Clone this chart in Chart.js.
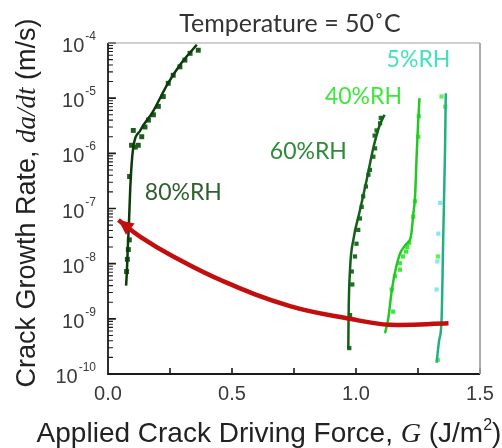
<!DOCTYPE html>
<html>
<head>
<meta charset="utf-8">
<script src="https://cdn.jsdelivr.net/npm/chart.js@4.4.1/dist/chart.umd.min.js"></script>
<style>
  html, body { margin: 0; padding: 0; background: #fff; }
</style>
</head>
<body>
<canvas id="chart" width="502" height="448"></canvas>
<script>
// data: G in J/m^2, da/dt in m/s
const g80Fit = [0.073, 0.076, 0.080, 0.085, 0.090, 0.100, 0.130, 0.180, 0.240, 0.290, 0.358];
const rate80Fit = [4e-9, 7e-9, 2e-8, 6.3e-8, 2.5e-7, 1.1e-6, 2.6e-6, 5.6e-6, 1.8e-5, 4e-5, 9.3e-5];
const g80Pts = [0.075, 0.078, 0.082, 0.086, 0.087, 0.095, 0.102, 0.110, 0.122, 0.136, 0.149, 0.163, 0.183, 0.203, 0.223, 0.243, 0.263, 0.290, 0.310, 0.331, 0.364];
const rate80Pts = [7.2e-9, 1.2e-8, 1.8e-8, 2.7e-8, 3.8e-7, 1.4e-6, 2.6e-6, 1.3e-6, 1.4e-6, 2.0e-6, 3.0e-6, 4.0e-6, 5.0e-6, 7.1e-6, 1.07e-5, 1.86e-5, 2.6e-5, 3.7e-5, 4.9e-5, 6.5e-5, 7.4e-5];

const g60Fit = [0.969, 0.970, 0.976, 0.990, 1.015, 1.043, 1.070, 1.095, 1.115];
const rate60Fit = [2.8e-10, 1e-9, 7.9e-9, 2.8e-8, 8.9e-8, 3.3e-7, 1.26e-6, 3.2e-6, 5e-6];
const g60Pts = [0.973, 0.976, 0.985, 0.983, 0.996, 1.002, 1.009, 1.016, 1.023, 1.029, 1.040, 1.050, 1.056, 1.070, 1.077, 1.075, 1.083, 1.097, 1.100];
const rate60Pts = [2.95e-10, 1.17e-9, 4.2e-9, 7.2e-9, 1.35e-8, 2.3e-8, 4.1e-8, 6.6e-8, 1.07e-7, 1.66e-7, 2.5e-7, 4.1e-7, 5e-7, 8.7e-7, 1.23e-6, 2.1e-6, 2.6e-6, 3.5e-6, 4.4e-6];

const g40Fit = [1.117, 1.130, 1.144, 1.160, 1.177, 1.200, 1.222, 1.231, 1.238, 1.245, 1.250, 1.256];
const rate40Fit = [5.5e-10, 1e-9, 3.2e-9, 7.9e-9, 1.5e-8, 2.2e-8, 3.2e-8, 7.9e-8, 1.6e-7, 1e-6, 3.2e-6, 1e-5];
const g40Pts = [1.150, 1.144, 1.157, 1.177, 1.177, 1.190, 1.202, 1.207, 1.215, 1.231, 1.238, 1.251, 1.253];
const rate40Pts = [1.35e-9, 3.4e-9, 5.9e-9, 7.8e-9, 1.02e-8, 1.35e-8, 1.66e-8, 2.0e-8, 2.4e-8, 7.1e-8, 1.35e-7, 2.0e-6, 4.7e-6];

const g5Fit = [1.325, 1.335, 1.345, 1.352, 1.359, 1.362];
const rate5Fit = [1.6e-10, 4e-10, 9.5e-10, 3.5e-8, 1.15e-6, 1.23e-5];
const g5Green = [1.330, 1.330, 1.345, 1.360];
const rate5Green = [1.8e-10, 1.35e-8, 1.07e-5, 7e-6];
const g5Cyan = [1.325, 1.328, 1.332, 1.339];
const rate5Cyan = [3.4e-9, 1.1e-8, 3.5e-8, 1.26e-7];

// red trend arrow, tail to tip
const gArrow = [1.373, 1.137, 0.976, 0.734, 0.465, 0.263, 0.129, 0.042];
const rateArrow = [8.3e-10, 7.8e-10, 1.0e-9, 1.7e-9, 4.8e-9, 1.35e-8, 3.1e-8, 6.2e-8];

const xTicks = [0, 0.5, 1.0, 1.5];
const xTickLabels = ['0.0', '0.5', '1.0', '1.5'];
const xTickMarks = [0.25, 0.5, 0.75, 1.0, 1.25, 1.5];
const yTickExp = [-4, -5, -6, -7, -8, -9, -10];
const seriesNames = ['80%RH', '60%RH', '40%RH', '5%RH'];

const SANS = '"Liberation Sans", Arial, sans-serif';
const SERIF = '"Liberation Serif", "Times New Roman", serif';
const LABEL_FONT = 'Lato, "Open Sans", sans-serif';

const X_MIN = 0, X_MAX = 1.5, Y_MIN = 1e-10, Y_MAX = 1e-4;

function pts(xs, ys) {
    return xs.map((x, i) => ({ x: x, y: ys[i] }));
}

function fitLine(xs, ys, color) {
    return {
        type: 'line', data: pts(xs, ys), borderColor: color, borderWidth: 2.5,
        pointRadius: 0, fill: false, cubicInterpolationMode: 'monotone'
    };
}

function markers(xs, ys, color, r) {
    return {
        type: 'scatter', data: pts(xs, ys), backgroundColor: color, borderColor: color,
        borderWidth: 0, pointStyle: 'rect', pointRadius: r
    };
}

// straight, unclipped line used for the axis frame and ticks
function frameLine(data, color, width) {
    return {
        type: 'line', data: data, borderColor: color, borderWidth: width,
        pointRadius: 0, fill: false, tension: 0, clip: false, spanGaps: false, order: -1
    };
}

// tick segments, split by gaps; lengths given in axis units (about 8, 5 and 6 px)
const majorY = yTickExp.map(e => Math.pow(10, e));
const minorY = [];
yTickExp.forEach(e => {
    for (let k = 2; k <= 9; k++) {
        if (e < -4) minorY.push(k * Math.pow(10, e));
    }
});
const yMajorTickData = [];
majorY.forEach(v => { yMajorTickData.push({ x: 0, y: v }, { x: 0.032, y: v }, { x: 0, y: null }); });
const yMinorTickData = [];
minorY.forEach(v => { yMinorTickData.push({ x: 0, y: v }, { x: 0.02, y: v }, { x: 0, y: null }); });
const xTickData = [];
xTickMarks.forEach(g => { xTickData.push({ x: g, y: Y_MIN }, { x: g, y: Y_MIN * 1.28 }, { x: g, y: null }); });

function drawRuns(ctx, runs, x, y) {
    let total = 0;
    runs.forEach(r => { ctx.font = r.font; total += ctx.measureText(r.text).width; });
    let cx = x - total / 2;
    runs.forEach(r => {
        ctx.font = r.font;
        ctx.fillText(r.text, cx, y + (r.dy || 0));
        cx += ctx.measureText(r.text).width;
    });
}

const decor = {
    id: 'decor',
    afterDatasetsDraw(chart) {
        const ctx = chart.ctx;
        const a = chart.chartArea;
        const xs = chart.scales.x, ys = chart.scales.y;
        ctx.save();
        // arrowhead on the red trend line
        const n = gArrow.length;
        const tx = xs.getPixelForValue(gArrow[n - 1]), ty = ys.getPixelForValue(rateArrow[n - 1]);
        const bx = xs.getPixelForValue(gArrow[n - 2]), by = ys.getPixelForValue(rateArrow[n - 2]);
        const ang = Math.atan2(ty - by, tx - bx);
        ctx.fillStyle = '#c40d0d';
        ctx.beginPath();
        ctx.moveTo(tx, ty);
        ctx.lineTo(tx - 15 * Math.cos(ang) + 7 * Math.sin(ang), ty - 15 * Math.sin(ang) - 7 * Math.cos(ang));
        ctx.lineTo(tx - 15 * Math.cos(ang) - 7 * Math.sin(ang), ty - 15 * Math.sin(ang) + 7 * Math.cos(ang));
        ctx.closePath();
        ctx.fill();

        // series labels (centre x, baseline y in data units)
        ctx.textAlign = 'center';
        ctx.textBaseline = 'alphabetic';
        ctx.font = '23px ' + LABEL_FONT;
        const labelSpots = [[0.304, 1.43e-7, '#2f5f2f'], [0.808, 7.9e-7, '#2e8a3a'], [1.030, 7.85e-6, '#3ee63e'], [1.252, 3.67e-5, '#44e2bb']];
        seriesNames.forEach((name, i) => {
            const s = labelSpots[i];
            ctx.fillStyle = s[2];
            ctx.fillText(name, xs.getPixelForValue(s[0]), ys.getPixelForValue(s[1]));
        });

        // heading
        ctx.fillStyle = '#333';
        ctx.font = '25px ' + LABEL_FONT;
        ctx.fillText('Temperature = 50˚C', 290, 32);

        // tick labels
        ctx.fillStyle = '#3a3a3a';
        ctx.font = '20px ' + SANS;
        xTicks.forEach((t, i) => {
            ctx.fillText(xTickLabels[i], xs.getPixelForValue(t), 400);
        });
        ctx.textAlign = 'left';
        yTickExp.forEach(e => {
            const py = ys.getPixelForValue(Math.pow(10, e));
            const right = a.left - 12;
            ctx.font = '12px ' + SANS;
            const es = String(e);
            const ew = ctx.measureText(es).width;
            ctx.fillText(es, right - ew, py - 3);
            ctx.font = '20px ' + SANS;
            const bw = ctx.measureText('10').width;
            ctx.fillText('10', right - ew - bw - 1, py + 9);
        });

        // axis titles
        ctx.fillStyle = '#222';
        drawRuns(ctx, [
            { text: 'Applied Crack Driving Force, ', font: '28px ' + SANS },
            { text: 'G', font: 'italic 28px ' + SERIF },
            { text: ' (J/m', font: '28px ' + SANS },
            { text: '2', font: '16px ' + SANS, dy: -12 },
            { text: ')', font: '28px ' + SANS }
        ], 269, 442);

        ctx.translate(35, 203);
        ctx.rotate(-Math.PI / 2);
        drawRuns(ctx, [
            { text: 'Crack Growth Rate, ', font: '27px ' + SANS },
            { text: 'da/dt', font: 'italic 27px ' + SERIF },
            { text: ' (m/s)', font: '27px ' + SANS }
        ], 0, 0);
        ctx.restore();
    }
};

// red arrow line is thicker and not monotone in G
const arrowLine = fitLine(gArrow, rateArrow, '#c40d0d');
arrowLine.borderWidth = 4.5;
arrowLine.cubicInterpolationMode = 'default';
arrowLine.tension = 0.4;

new Chart(document.getElementById('chart'), {
    data: {
        datasets: [
            frameLine([{ x: X_MIN, y: Y_MAX }, { x: X_MAX, y: Y_MAX }, { x: X_MAX, y: Y_MIN }], '#a0a0a0', 1),
            frameLine([{ x: X_MIN, y: Y_MAX }, { x: X_MIN, y: Y_MIN }, { x: X_MAX, y: Y_MIN }], '#1a1a1a', 1.8),
            frameLine(yMajorTickData, '#1a1a1a', 1.6),
            frameLine(yMinorTickData, '#1a1a1a', 1.1),
            frameLine(xTickData, '#1a1a1a', 1.6),
            arrowLine,
            fitLine(g80Fit, rate80Fit, '#0b3b0b'),
            markers(g80Pts, rate80Pts, '#1d5c1d', 3.5),
            fitLine(g60Fit, rate60Fit, '#14601a'),
            markers(g60Pts, rate60Pts, '#1f6e22', 3),
            fitLine(g40Fit, rate40Fit, '#22c922'),
            markers(g40Pts, rate40Pts, '#3ee63e', 3),
            fitLine(g5Fit, rate5Fit, '#22b083'),
            markers(g5Cyan, rate5Cyan, '#85e8f0', 3),
            markers(g5Green, rate5Green, '#5ef05e', 3)
        ]
    },
    options: {
        responsive: false,
        devicePixelRatio: 1,
        animation: false,
        layout: { padding: { left: 0, top: 43, right: 22, bottom: 0 } },
        plugins: { legend: { display: false }, tooltip: { enabled: false } },
        scales: {
            x: {
                type: 'linear', min: X_MIN, max: X_MAX,
                grid: { display: false },
                border: { display: false },
                ticks: { display: false },
                afterFit: s => { s.height = 74; }
            },
            y: {
                type: 'logarithmic', min: Y_MIN, max: Y_MAX,
                grid: { display: false },
                border: { display: false },
                ticks: { display: false },
                afterFit: s => { s.width = 108; }
            }
        }
    },
    plugins: [decor]
});
</script>
</body>
</html>
